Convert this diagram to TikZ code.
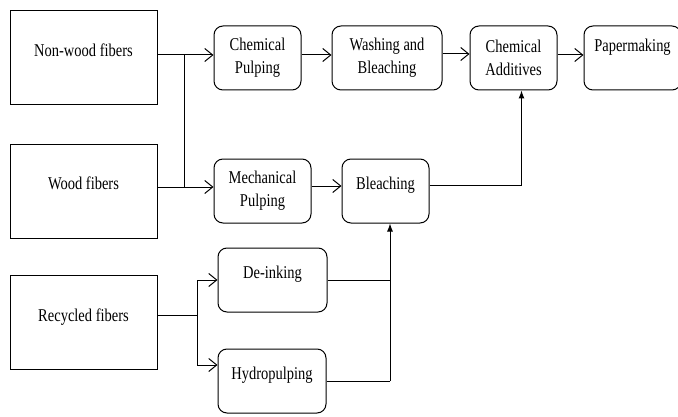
\documentclass[tikz,border=0pt]{standalone}
\usepackage{fontspec}
\setmainfont{Liberation Serif}[FakeStretch=0.805]
\usetikzlibrary{positioning}
\usetikzlibrary{arrows.meta}

\begin{document}
\begin{tikzpicture}[
    x=1pt, y=1pt,
    font=\fontsize{18}{23}\selectfont,
    source/.style={draw, line width=1pt, minimum width=147pt, minimum height=94pt, text height=12pt, text depth=14pt},
    proc/.style={draw, line width=1pt, rounded corners=9pt, minimum height=64pt, align=center, inner sep=2pt},
    lifted/.style={text height=12pt, text depth=#1},
    flow/.style={-{Straight Barb[length=8pt,width=13pt]}, line width=1pt},
    link/.style={line width=1pt},
    feed/.style={-{Latex[length=8pt,width=6pt]}, line width=1pt}
]
\useasboundingbox (0,0) rectangle (678,416);

% Fiber sources
\node[source] (nonwood) at (83.5,358) {Non-wood fibers};
\node[source, below=38pt of nonwood] (wood) {Wood fibers};
\node[source, below=36pt of wood] (recycled) {Recycled fibers};

% Chemical route
\node[proc, minimum width=87pt, right=56pt of nonwood] (chempulp) {Chemical\\Pulping};
\node[proc, minimum width=110pt, right=30pt of chempulp] (washbleach) {Washing and\\Bleaching};
\node[proc, minimum width=87pt, right=27pt of washbleach] (chemadd) {Chemical\\Additives};
\node[proc, minimum width=97pt, lifted=24pt, right=26pt of chemadd] (papermaking) {Papermaking};

% Mechanical route
\node[proc, minimum width=97pt, right=56pt of wood] (mechpulp) {Mechanical\\Pulping};
\node[proc, minimum width=87pt, lifted=16pt, right=30pt of mechpulp] (bleach) {Bleaching};

% Recycled route
\node[proc, minimum width=109pt, lifted=16pt] (deink) at (272.5,136) {De-inking};
\node[proc, minimum width=108pt, lifted=16pt] (hydro) at (272,35) {Hydropulping};

% Sources into pulping
\draw[flow] ([yshift=3pt]nonwood.east) -- ([yshift=3pt]chempulp.west);
\draw[flow] ([yshift=4pt]wood.east) -- ([yshift=4pt]mechpulp.west);
\coordinate (nwjoin) at ([xshift=27pt,yshift=3pt]nonwood.east);
\coordinate (wdjoin) at ([yshift=4pt]wood.east);
\draw[link] (nwjoin) -- (nwjoin |- wdjoin);

% Main line
\draw[flow] ([yshift=3pt]chempulp.east) -- ([yshift=3pt]washbleach.west);
\draw[flow] ([yshift=4pt]washbleach.east) -- ([yshift=4pt]chemadd.west);
\draw[flow] ([yshift=3pt]chemadd.east) -- ([yshift=3pt]papermaking.west);
\draw[flow] ([yshift=5pt]mechpulp.east) -- ([yshift=5pt]bleach.west);
\draw[feed] ([yshift=6pt]bleach.east) -| ([xshift=8pt]chemadd.south);

% Recycled split and merge
\coordinate (rsplit) at ([xshift=40pt,yshift=7pt]recycled.east);
\draw[link] ([yshift=7pt]recycled.east) -- (rsplit);
\draw[flow] (rsplit) |- (deink.west);
\draw[flow] (rsplit) |- ([yshift=16pt]hydro.west);
\coordinate (rmerge) at ([xshift=4.5pt]bleach.south);
\draw[link] (deink.east) -- (deink.east -| rmerge);
\draw[link] (hydro.east) -- (hydro.east -| rmerge);
\draw[feed] (hydro.east -| rmerge) -- (rmerge);

\end{tikzpicture}
\end{document}
